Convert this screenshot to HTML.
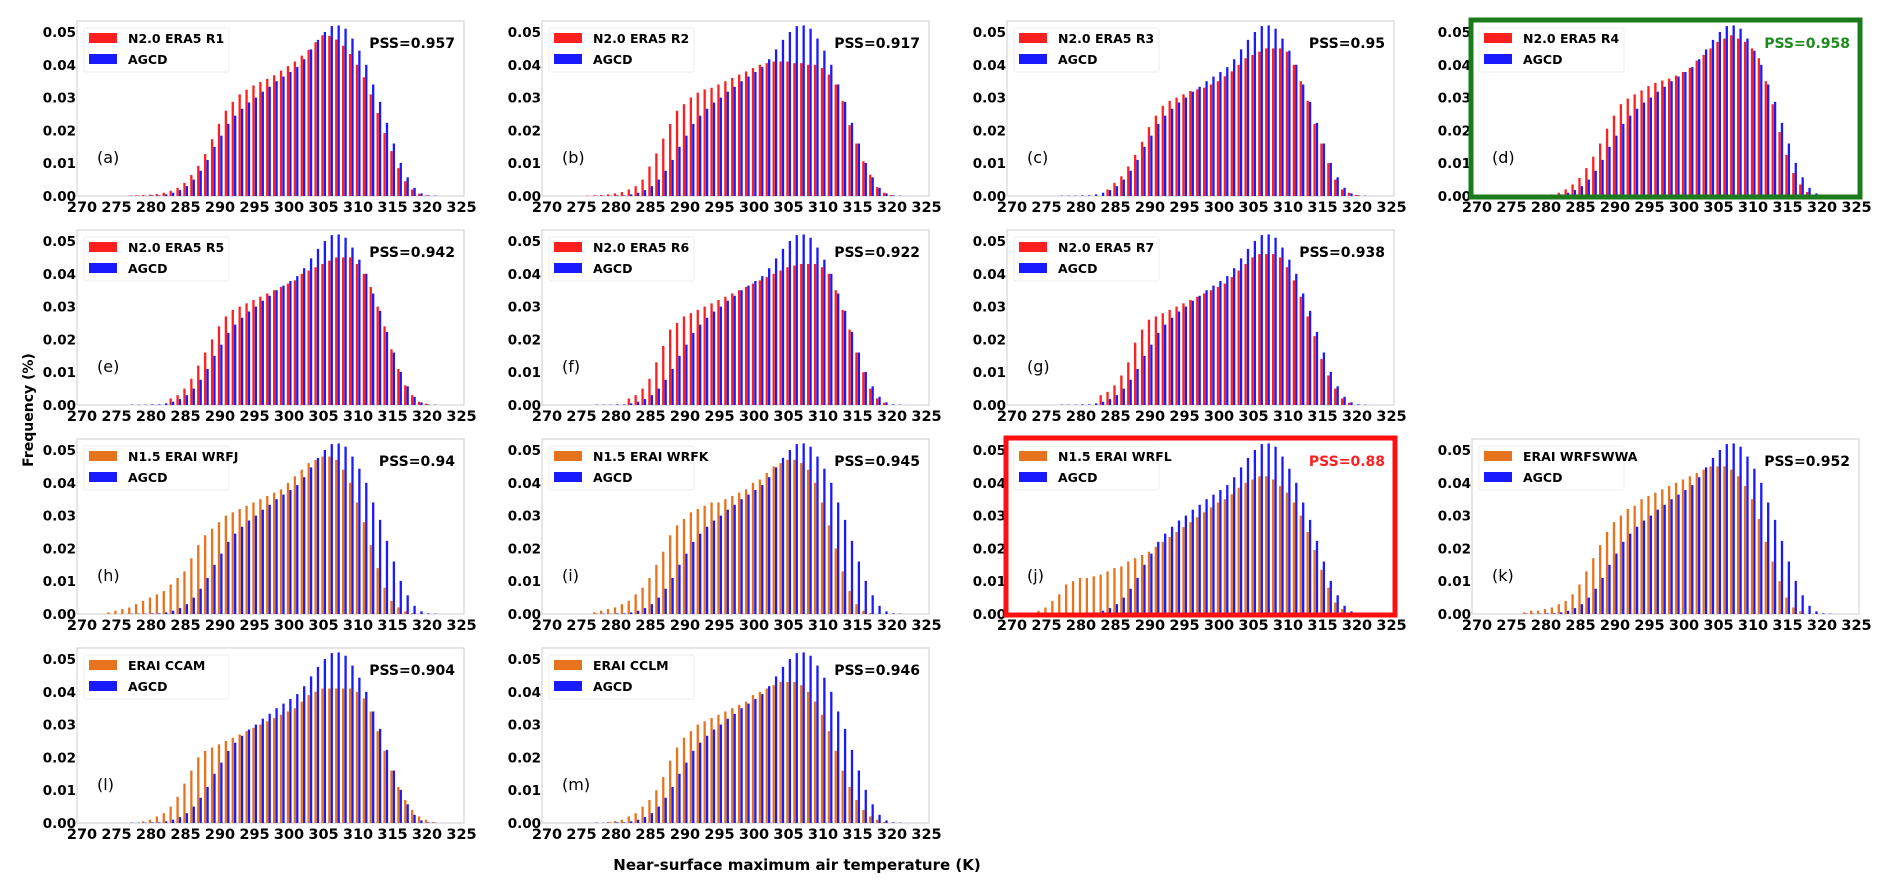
<!DOCTYPE html>
<html><head><meta charset="utf-8">
<style>
html,body{margin:0;padding:0;background:#fff;}
svg{display:block;font-family:"DejaVu Sans","Liberation Sans",sans-serif;}
</style></head>
<body>
<svg id="fig" width="1892" height="894" viewBox="0 0 1892 894" xmlns="http://www.w3.org/2000/svg">
<text x="0" y="0" transform="translate(33,410) rotate(-90)" text-anchor="middle" font-weight="bold" font-size="14">Frequency (%)</text>
<text x="797" y="870" text-anchor="middle" font-weight="bold" font-size="15">Near-surface maximum air temperature (K)</text>
</svg>
<script>
// AGCD reference series, starting at 275 K
const agcdStart = 275;
const agcd = [0,0,0.0001,0.0001,0.0001,0.0002,0.0002,0.0005,0.001,0.0018,0.003,0.005,0.0077,0.011,0.015,0.0184,0.022,0.0245,0.0266,0.0285,0.030,0.0318,0.0333,0.035,0.0364,0.0378,0.0393,0.0417,0.0447,0.0476,0.050,0.0518,0.052,0.051,0.048,0.0443,0.040,0.034,0.0287,0.0223,0.016,0.0101,0.0057,0.0025,0.0008,0.0002,0.0001,0];
// model series (start temperature + values)
const panelLabels = ["(a)","(b)","(c)","(d)","(e)","(f)","(g)","(h)","(i)","(j)","(k)","(l)","(m)"];
const modelNames = ["N2.0 ERA5 R1","N2.0 ERA5 R2","N2.0 ERA5 R3","N2.0 ERA5 R4","N2.0 ERA5 R5","N2.0 ERA5 R6","N2.0 ERA5 R7","N1.5 ERAI WRFJ","N1.5 ERAI WRFK","N1.5 ERAI WRFL","ERAI WRFSWWA","ERAI CCAM","ERAI CCLM"];
const pssValues = ["0.957","0.917","0.95","0.958","0.942","0.922","0.938","0.94","0.945","0.88","0.952","0.904","0.946"];
const modelStarts = [277,276,284,280,283,282,283,274,277,274,277,279,279];
const modelA = [0.0001,0.0002,0.0003,0.0004,0.0006,0.001,0.0016,0.0025,0.004,0.0064,0.0092,0.0128,0.0173,0.022,0.026,0.0287,0.031,0.0324,0.0337,0.0348,0.0357,0.0368,0.0382,0.0396,0.041,0.0428,0.0446,0.0469,0.049,0.0488,0.0477,0.0458,0.0433,0.040,0.0362,0.031,0.0253,0.0192,0.0137,0.0085,0.0045,0.002,0.0007,0.0002];
const modelB = [0.0001,0.0002,0.0003,0.0005,0.0008,0.0012,0.002,0.003,0.005,0.009,0.013,0.0175,0.022,0.026,0.028,0.030,0.0315,0.0325,0.033,0.034,0.035,0.036,0.037,0.038,0.039,0.040,0.0405,0.041,0.041,0.041,0.0405,0.0405,0.040,0.040,0.039,0.037,0.034,0.029,0.0216,0.016,0.0106,0.0065,0.0027,0.001,0.0003];
const modelC = [0.002,0.004,0.006,0.009,0.0125,0.0165,0.021,0.0245,0.0275,0.029,0.030,0.031,0.032,0.0325,0.033,0.034,0.035,0.0365,0.038,0.040,0.042,0.043,0.044,0.045,0.045,0.045,0.044,0.040,0.035,0.029,0.022,0.016,0.010,0.005,0.002,0.001,0.0003];
const modelD = [0.0002,0.0005,0.001,0.002,0.0035,0.0055,0.0085,0.012,0.016,0.0205,0.0245,0.028,0.0297,0.031,0.0322,0.0335,0.0345,0.0352,0.0358,0.0367,0.0378,0.039,0.0413,0.043,0.045,0.047,0.048,0.049,0.048,0.047,0.045,0.042,0.035,0.028,0.0195,0.0125,0.007,0.0035,0.0012,0.0003];
const modelE = [0.002,0.003,0.005,0.008,0.012,0.016,0.020,0.024,0.027,0.029,0.030,0.031,0.032,0.033,0.034,0.035,0.036,0.037,0.038,0.040,0.041,0.042,0.043,0.044,0.045,0.045,0.045,0.043,0.040,0.036,0.030,0.024,0.017,0.011,0.006,0.003,0.001,0.0004];
const modelF = [0.002,0.003,0.005,0.008,0.013,0.018,0.023,0.025,0.027,0.028,0.029,0.030,0.031,0.032,0.033,0.034,0.035,0.036,0.037,0.038,0.039,0.040,0.041,0.042,0.0425,0.043,0.043,0.043,0.042,0.040,0.035,0.029,0.023,0.016,0.010,0.005,0.002,0.0007];
const modelG = [0.003,0.004,0.006,0.009,0.013,0.019,0.023,0.026,0.027,0.028,0.029,0.030,0.031,0.032,0.033,0.034,0.035,0.036,0.037,0.039,0.041,0.043,0.045,0.046,0.046,0.046,0.045,0.042,0.038,0.033,0.027,0.021,0.014,0.009,0.005,0.002,0.0007];
const modelH = [0.0005,0.001,0.0015,0.002,0.003,0.004,0.005,0.006,0.007,0.009,0.011,0.013,0.017,0.021,0.024,0.026,0.028,0.030,0.031,0.032,0.033,0.034,0.035,0.036,0.037,0.038,0.040,0.042,0.044,0.046,0.047,0.048,0.048,0.047,0.044,0.040,0.034,0.028,0.021,0.014,0.008,0.004,0.002,0.0008,0.0003];
const modelI = [0.0005,0.001,0.0015,0.002,0.003,0.004,0.006,0.008,0.011,0.015,0.019,0.024,0.027,0.029,0.031,0.032,0.033,0.034,0.034,0.035,0.036,0.037,0.038,0.040,0.041,0.043,0.045,0.046,0.047,0.047,0.046,0.044,0.040,0.034,0.027,0.020,0.013,0.007,0.003,0.001,0.0003];
const modelJ = [0.001,0.002,0.004,0.006,0.009,0.010,0.011,0.011,0.0115,0.012,0.013,0.014,0.0145,0.016,0.017,0.018,0.019,0.0205,0.022,0.0235,0.025,0.0265,0.028,0.0295,0.031,0.0325,0.034,0.035,0.0365,0.0385,0.040,0.041,0.042,0.042,0.041,0.039,0.037,0.034,0.030,0.025,0.0195,0.0135,0.008,0.0035,0.0015];
const modelK = [0.0005,0.001,0.001,0.0015,0.002,0.003,0.004,0.006,0.009,0.013,0.017,0.021,0.025,0.028,0.030,0.032,0.033,0.035,0.036,0.037,0.038,0.039,0.040,0.041,0.042,0.043,0.044,0.045,0.045,0.045,0.044,0.042,0.039,0.035,0.029,0.022,0.016,0.010,0.005,0.002,0.0008];
const modelL = [0.0005,0.001,0.002,0.003,0.005,0.008,0.012,0.016,0.020,0.022,0.023,0.024,0.025,0.026,0.027,0.028,0.029,0.030,0.031,0.032,0.033,0.034,0.035,0.037,0.039,0.040,0.041,0.041,0.041,0.041,0.041,0.040,0.038,0.034,0.028,0.022,0.016,0.011,0.007,0.004,0.002,0.001,0.0003];
const modelM = [0.0003,0.0006,0.001,0.002,0.003,0.005,0.007,0.010,0.014,0.019,0.023,0.026,0.028,0.030,0.031,0.032,0.033,0.034,0.035,0.036,0.037,0.039,0.040,0.041,0.042,0.043,0.043,0.043,0.042,0.040,0.037,0.033,0.028,0.022,0.016,0.011,0.007,0.004,0.002,0.001,0.0003];
const modelSeries = [modelA,modelB,modelC,modelD,modelE,modelF,modelG,modelH,modelI,modelJ,modelK,modelL,modelM];
const xTicks = [270,275,280,285,290,295,300,305,310,315,320,325];
const yTicks = [0,0.01,0.02,0.03,0.04,0.05];
const yTickLabels = ["0.00","0.01","0.02","0.03","0.04","0.05"];

const NS = "http://www.w3.org/2000/svg";
const svg = document.getElementById("fig");
const colLeft = [77,542,1007,1472];
const rowTop = [21,230,439,648];
const positions = [[0,0],[1,0],[2,0],[3,0],[0,1],[1,1],[2,1],[0,2],[1,2],[2,2],[3,2],[0,3],[1,3]];
const W = 387, H = 175;
function mk(tag, attrs){const e=document.createElementNS(NS,tag);for(const k in attrs)e.setAttribute(k,attrs[k]);return e;}

positions.forEach(function(pos, p){
  const L = colLeft[pos[0]], T = rowTop[pos[1]];
  const orange = p >= 7;
  const mColor = orange ? "#e8731e" : "#ff1f1f";
  const g = mk("g", {});
  
  
  svg.appendChild(g);
  const xs = function(t){return L + 5 + (t - 270) * 6.9;};
  const ys = function(v){return T + H - v * 3280;};
  const frame = mk("rect", {x:L, y:T, width:W, height:H, fill:"#fff", stroke:"#cccccc", "stroke-width":1});
  
  
  g.appendChild(frame);
  const ms = modelSeries[p], st = modelStarts[p];
  const bw = 2.3;
  ms.forEach(function(v, i){
    const t = st + i;
    const r = mk("rect", {x:xs(t) - 0.15*6.9 - bw/2, y:ys(v), width:bw, height:Math.max(0, v*3280), fill:mColor});
    
    
    g.appendChild(r);
  });
  agcd.forEach(function(v, i){
    const t = agcdStart + i;
    const r = mk("rect", {x:xs(t) + 0.2*6.9 - bw/2, y:ys(v), width:bw, height:Math.max(0, v*3280), fill:"#1a1aff"});
    
    
    g.appendChild(r);
  });
  xTicks.forEach(function(t){
    const tx = mk("text", {x:xs(t), y:T+H+16, "text-anchor":"middle", "font-weight":"bold", "font-size":"14.5"});
    tx.textContent = t;
    
    
    g.appendChild(tx);
  });
  yTicks.forEach(function(v, i){
    const ty = mk("text", {x:L-1, y:ys(v)+5, "text-anchor":"end", "font-weight":"bold", "font-size":"13.5"});
    ty.textContent = yTickLabels[i];
    
    
    g.appendChild(ty);
  });
  const lg = mk("rect", {x:L+7, y:T+7, width:145, height:44, fill:"#fff", "fill-opacity":0.8, stroke:"#eeeeee", rx:2});
  
  
  g.appendChild(lg);
  const s1 = mk("rect", {x:L+12, y:T+12, width:28, height:10, fill:mColor});
  
  
  g.appendChild(s1);
  const t1 = mk("text", {x:L+51, y:T+22, "font-weight":"bold", "font-size":"12.5"});
  t1.textContent = modelNames[p];
  
  
  g.appendChild(t1);
  const s2 = mk("rect", {x:L+12, y:T+33, width:28, height:10, fill:"#1a1aff"});
  
  
  g.appendChild(s2);
  const t2 = mk("text", {x:L+51, y:T+43, "font-weight":"bold", "font-size":"12.5"});
  t2.textContent = "AGCD";
  
  
  g.appendChild(t2);
  let pc = "#000";
  if (p === 3) pc = "#1e8a1e";
  if (p === 9) pc = "#ff1f1f";
  const ps = mk("text", {x:L+378, y:T+27, "text-anchor":"end", "font-weight":"bold", "font-size":"14", fill:pc});
  ps.textContent = "PSS=" + pssValues[p];
  
  
  g.appendChild(ps);
  const pl = mk("text", {x:L+20, y:T+142, "font-size":"16"});
  pl.textContent = panelLabels[p];
  
  
  g.appendChild(pl);
  if (p === 3 || p === 9) {
    const hb = mk("rect", {x:L-1, y:T-1, width:W+2, height:H+2, fill:"none", stroke:(p===3?"#1b7a1b":"#ff1010"), "stroke-width":5});
    
    
    g.appendChild(hb);
  }
});
</script>
</body></html>
